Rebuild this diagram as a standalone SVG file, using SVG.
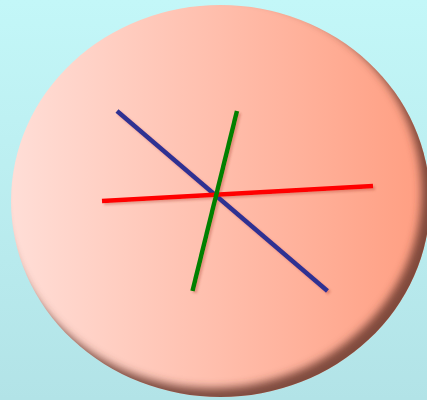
<svg xmlns="http://www.w3.org/2000/svg" width="427" height="400" viewBox="0 0 427 400">
  <defs>
    <linearGradient id="bg" x1="0" y1="0" x2="0" y2="1">
      <stop offset="0" stop-color="#c3f7f8"/>
      <stop offset="1" stop-color="#b2e3e7"/>
    </linearGradient>
    <linearGradient id="disc" x1="0" y1="0" x2="1" y2="0">
      <stop offset="0" stop-color="#ffded7"/>
      <stop offset="1" stop-color="#ff9d80"/>
    </linearGradient>
    <clipPath id="clip">
      <ellipse cx="220.5" cy="201" rx="209.5" ry="196"/>
    </clipPath>
    <filter id="blur" x="-20%" y="-20%" width="140%" height="140%">
      <feGaussianBlur stdDeviation="4"/>
    </filter>
    <filter id="shadow" x="-20%" y="-20%" width="140%" height="140%">
      <feGaussianBlur in="SourceAlpha" stdDeviation="1.2"/>
      <feOffset dx="2" dy="2" result="b"/>
      <feFlood flood-color="#b04030" flood-opacity="0.35"/>
      <feComposite in2="b" operator="in"/>
      <feMerge>
        <feMergeNode/>
        <feMergeNode in="SourceGraphic"/>
      </feMerge>
    </filter>
    <style>
      .ln { stroke-width: 4.5; stroke-linecap: butt; fill: none; }
    </style>
  </defs>
  <rect width="427" height="400" fill="url(#bg)"/>
  <g id="disc-node">
    <ellipse cx="220.5" cy="201" rx="209.5" ry="196" fill="url(#disc)"/>
    <g clip-path="url(#clip)">
      <path filter="url(#blur)" fill="#6a3a30" fill-opacity="0.85" fill-rule="evenodd"
        d="M-100,-100 H560 V520 H-100 Z M5.5,195 a209.5,196 0 1,0 419,0 a209.5,196 0 1,0 -419,0 Z" transform="translate(-3,-3)"/>
    </g>
  </g>
  <g id="connectors" filter="url(#shadow)">
    <line class="ln" x1="117" y1="111" x2="327.5" y2="291" stroke="#2e3192"/>
    <line class="ln" x1="102" y1="201" x2="373" y2="186" stroke="#ff0000"/>
    <line class="ln" x1="237" y1="111" x2="192.5" y2="291" stroke="#008000"/>
  </g>
</svg>
